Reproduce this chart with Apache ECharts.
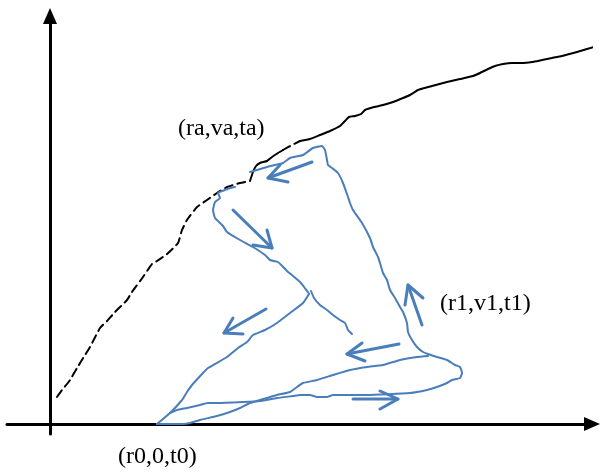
<!DOCTYPE html>
<html>
<head>
<meta charset="utf-8">
<script src="https://cdn.jsdelivr.net/npm/echarts@6/dist/echarts.min.js"></script>
<style>
  html, body { margin: 0; padding: 0; background: #fff; }
  #chart { width: 600px; height: 474px; }
</style>
</head>
<body>
<div id="chart"></div>
<script>
// Boundary curve, r (horizontal) against v (vertical): dashed lower part, solid upper part
const boundaryDashedLow = [[7,27],[12,34],[17,40],[20,44],[27,56],[35,69],[40,77],[50,96],[57,103],[65,112],[77,124],[82,132],[93,147],[102,160],[107,163],[117,170],[128,181],[132,194],[137,204],[147,217],[157,224],[167,231],[177,237],[190,241],[200,243]];
const boundarySolidShort = [[200,243],[203,252],[206,258],[210,261],[217,263],[222,267],[228,271],[233,274]];
const boundaryDashedShort = [[233,274],[242,279],[250,283]];
const boundarySolidHigh = [[250,283],[260,285],[270,289],[280,293],[290,298],[295,303],[299,307],[305,308],[311,310],[315,314],[324,317],[333,319],[343,322],[353,326],[360,329],[368,334],[382,338],[397,342],[410,345],[423,348],[430,351],[438,355],[445,358],[453,360],[462,361],[472,361],[482,362],[492,364],[502,366],[512,368],[527,372],[544,377]];

// Sketched trajectory strokes
const pathOuter = [[120,11],[127,14],[137,16],[150,19],[158,21],[167,21],[193,22],[210,23],[227,26],[243,28],[250,29],[260,29],[267,27],[277,27],[283,29],[317,29],[360,31],[377,34],[387,37],[397,41],[402,44],[410,46],[412,51],[410,57],[405,59],[397,64],[387,67],[378,70],[373,72],[367,77],[362,84],[358,92],[357,101],[353,112],[350,117],[345,126],[340,134],[337,144],[333,151],[330,161],[328,167],[323,177],[320,186],[312,201],[303,214],[300,221],[298,227],[293,241],[288,251],[282,256],[278,259],[277,264],[275,274],[272,278],[263,276],[253,269],[240,266],[233,261],[217,257],[200,252]];
const pathHookDown = [[185,237],[180,236],[175,234],[168,231],[170,226],[165,222],[163,214],[165,206],[173,198],[177,192],[190,184],[203,177],[215,169],[220,164],[228,162],[237,153],[243,148],[250,142],[254,137],[258,132],[259,130]];
const pathSteep = [[259,130],[253,121],[240,111],[227,101],[215,94],[203,89],[197,82],[188,76],[177,67],[158,56],[153,51],[142,39],[137,32],[132,24],[120,11],[107,0]];
const pathStub = [[261,133],[264,126],[270,119],[277,114],[283,109],[290,104],[295,101],[298,94],[302,90]];
const pathInner = [[378,68],[367,67],[350,64],[333,59],[317,57],[300,54],[283,49],[267,44],[253,41],[247,37],[240,32],[227,29],[210,24],[200,21],[190,16],[180,12],[167,8],[150,4],[140,1],[133,0],[107,0]];

// Direction arrows: [tail, tip, barb A, barb B]
const arrows = [
  [[262,262],[218,246],[230,259],[238,242]],
  [[183,214],[222,176],[217,194],[203,179]],
  [[216,115],[174,91],[183,106],[193,90]],
  [[349,80],[297,70],[312,81],[315,63]],
  [[372,99],[358,139],[355,119],[373,126]],
  [[303,25],[348,25],[330,33],[330,15]]
];

// Point labels
const pointLabels = ['(ra,va,ta)', '(r1,v1,t1)', '(r0,0,t0)'];

const BLUE = '#4a7ebb';
const chart = echarts.init(document.getElementById('chart'));

function stroke(data, color, width, dash) {
  return {
    type: 'line', data: data, showSymbol: false, symbol: 'none', smooth: 0.15,
    clip: false, silent: true,
    lineStyle: { color: color, width: width, type: dash || 'solid', cap: 'round', join: 'round' }
  };
}

const series = [
  stroke(boundaryDashedLow, '#000', 2, [8, 5]),
  stroke(boundarySolidShort, '#000', 2),
  stroke(boundaryDashedShort, '#000', 2, [8, 5]),
  stroke(boundarySolidHigh, '#000', 2),
  stroke(pathOuter, BLUE, 2),
  stroke(pathHookDown, BLUE, 2),
  stroke(pathSteep, BLUE, 2),
  stroke(pathStub, BLUE, 2),
  stroke(pathInner, BLUE, 2)
];
arrows.forEach(a => {
  const s1 = stroke([a[0], a[1]], BLUE, 3); s1.smooth = false;
  const s2 = stroke([a[2], a[1], a[3]], BLUE, 3); s2.smooth = false;
  series.push(s1, s2);
});

const labelFont = { fontFamily: 'Liberation Serif', fontSize: 24, fill: '#000', align: 'center', verticalAlign: 'middle' };

chart.setOption({
  animation: false,
  backgroundColor: '#fff',
  grid: { left: 7, right: 8, top: 16, bottom: 40 },
  xAxis: {
    type: 'value', min: -43, max: 542,
    axisLine: { onZero: true, lineStyle: { color: '#000', width: 3 }, symbol: ['none', 'triangle'], symbolSize: [14, 16] },
    axisTick: { show: false }, axisLabel: { show: false }, splitLine: { show: false }
  },
  yAxis: {
    type: 'value', min: -10, max: 408,
    axisLine: { onZero: true, lineStyle: { color: '#000', width: 3 }, symbol: ['none', 'triangle'], symbolSize: [14, 16] },
    axisTick: { show: false }, axisLabel: { show: false }, splitLine: { show: false }
  },
  graphic: [
    { type: 'text', left: 178, top: 117, style: Object.assign({ text: pointLabels[0] }, labelFont, { align: 'left', verticalAlign: 'top' }) },
    { type: 'text', left: 440, top: 292, style: Object.assign({ text: pointLabels[1] }, labelFont, { align: 'left', verticalAlign: 'top' }) },
    { type: 'text', left: 118, top: 445, style: Object.assign({ text: pointLabels[2] }, labelFont, { align: 'left', verticalAlign: 'top' }) }
  ],
  series: series
});
</script>
</body>
</html>
